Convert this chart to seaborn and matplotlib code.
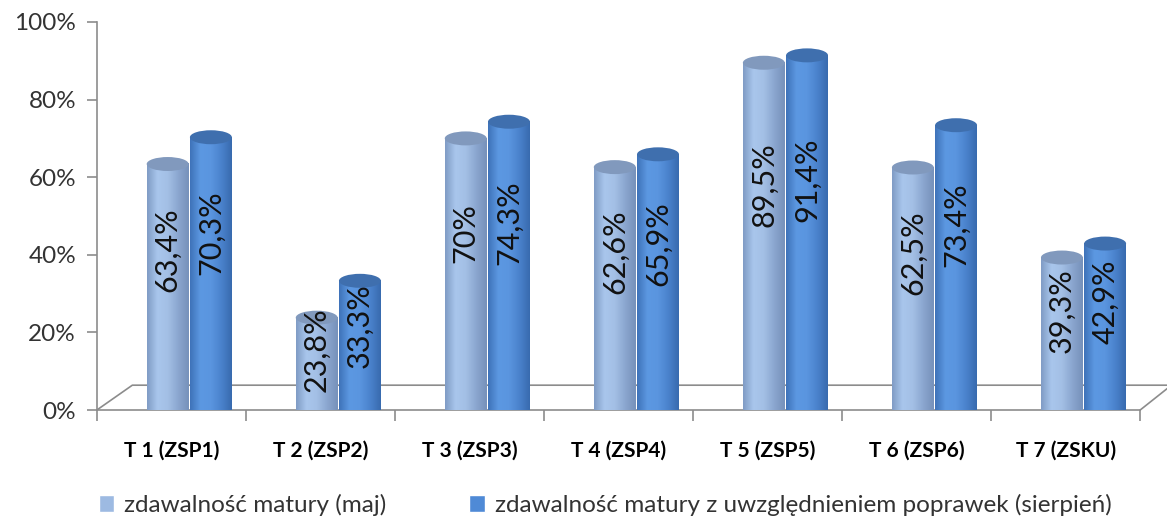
import matplotlib.pyplot as plt
import matplotlib.colors as mcolors
from matplotlib.patches import Ellipse
import numpy as np
import pandas as pd
import seaborn as sns

#%%
# dane z wykresu
szkoly = ['T 1 (ZSP1)', 'T 2 (ZSP2)', 'T 3 (ZSP3)', 'T 4 (ZSP4)',
          'T 5 (ZSP5)', 'T 6 (ZSP6)', 'T 7 (ZSKU)']
zdawalnosc_maj = [63.4, 23.8, 70.0, 62.6, 89.5, 62.5, 39.3]
zdawalnosc_sierpien = [70.3, 33.3, 74.3, 65.9, 91.4, 73.4, 42.9]
serie = ['zdawalność matury (maj)',
         'zdawalność matury z uwzględnieniem poprawek (sierpień)']

df = pd.DataFrame({
    'szkola': szkoly * 2,
    'wartosc': zdawalnosc_maj + zdawalnosc_sierpien,
    'seria': [serie[0]] * len(szkoly) + [serie[1]] * len(szkoly),
})

kolory = ['#9DBAE2', '#4F8AD6']
# jasny brzeg / srodek / ciemny brzeg dla efektu walca
gradienty = [
    ['#7F9BC4', '#A9C6EC', '#A3BFE5', '#8AA6CF', '#7691BA'],
    ['#3E72B8', '#5C98E2', '#5A95DF', '#4A82CC', '#386AAE'],
]
kolory_gora = ['#8199BD', '#3F6FAE']

#%%
sns.set_theme(style='white')
plt.rcParams['font.family'] = ['Lato', 'DejaVu Sans']

fig = plt.figure(figsize=(11.67, 5.2), dpi=100)
ax = fig.add_axes([0.083, 0.2115, 0.894, 0.7462])

sns.barplot(data=df, x='szkola', y='wartosc', hue='seria', palette=kolory,
            width=0.58, gap=0.03, saturation=1, ax=ax, legend=True)

przesuniecie = 0.12
wys_elipsy = 3.6
for i, cont in enumerate(ax.containers):
    cmap = mcolors.LinearSegmentedColormap.from_list('walec%d' % i, gradienty[i])
    grad = np.linspace(0, 1, 256).reshape(1, -1)
    for j, bar in enumerate(cont):
        bar.set_x(bar.get_x() + przesuniecie)
        x0 = bar.get_x()
        w = bar.get_width()
        h = bar.get_height()
        bar.set_edgecolor('none')
        ax.imshow(grad, extent=[x0, x0 + w, 0, h], cmap=cmap, aspect='auto',
                  interpolation='bicubic', zorder=3)
        ax.add_patch(Ellipse((x0 + w / 2, h), w, wys_elipsy,
                             facecolor=kolory_gora[i], edgecolor='none', zorder=4))
        etykieta = ('%g' % h).replace('.', ',') + '%'
        ax.text(x0 + w / 2, h * 0.65, etykieta, rotation=90, ha='center',
                va='center', fontsize=22, color='#111111', zorder=5)

ax.set_xlim(-0.5, len(szkoly) - 0.5)
ax.set_ylim(0, 100)
ax.set_yticks(range(0, 101, 20))
ax.set_yticklabels(['%d%%' % t for t in range(0, 101, 20)], fontsize=17.5,
                   color='#333333')
ax.set_xticks(range(len(szkoly)))
ax.set_xticklabels(szkoly, fontsize=15, fontweight='bold', color='black')
ax.set_xticks(np.arange(-0.5, len(szkoly), 1), minor=True)
ax.tick_params(axis='x', which='major', length=0, pad=22)
ax.tick_params(axis='x', which='minor', length=8, width=1.2, color='#8C8C8C',
               direction='out', bottom=True)
ax.tick_params(axis='y', length=7, width=1.2, color='#8C8C8C', direction='out',
               left=True, pad=8)
ax.set_xlabel('')
ax.set_ylabel('')

for s in ['top', 'right']:
    ax.spines[s].set_visible(False)
for s in ['left', 'bottom']:
    ax.spines[s].set_color('#8C8C8C')
    ax.spines[s].set_linewidth(1.2)

# podloga 3D
kol_podl = '#8C8C8C'
ax.plot([0, 0.034, 1.03], [0, 0.064, 0.064], transform=ax.transAxes,
        color=kol_podl, lw=1.2, clip_on=False, zorder=1)
ax.plot([1, 1.03], [0, 0.064], transform=ax.transAxes,
        color=kol_podl, lw=1.2, clip_on=False, zorder=1)

leg = ax.legend(loc='center', bbox_to_anchor=(0.487, -0.245), ncol=2,
                frameon=False, fontsize=17.5, handlelength=0.65,
                handleheight=0.65, handletextpad=0.4, columnspacing=3.4)
for t in leg.get_texts():
    t.set_color('#333333')

fig.savefig('out.png', dpi=100)
